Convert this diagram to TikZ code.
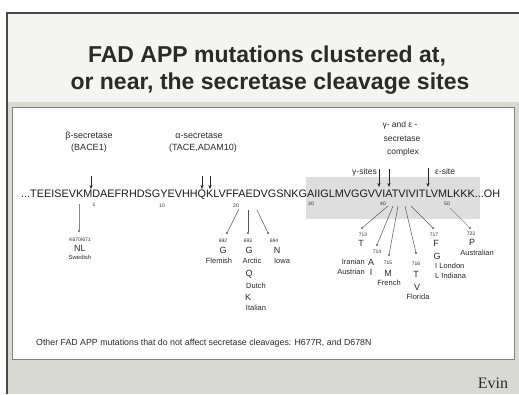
\documentclass[tikz,border=0pt]{standalone}
\usepackage{fontspec}
\setmainfont{Liberation Sans}
\newfontfamily\evinfont{Liberation Serif}
\usetikzlibrary{arrows.meta}
\definecolor{slidebg}{HTML}{D9D9D3}
\definecolor{titlebg}{HTML}{F4F4F1}
\definecolor{txt}{HTML}{2A2A2A}
\definecolor{linec}{HTML}{555555}
\definecolor{seqbox}{HTML}{DEDEDE}
\definecolor{framec}{HTML}{4A4A4A}
\tikzset{
  title/.style={font=\bfseries\fontsize{23}{25}\selectfont, text=txt, inner sep=0pt, anchor=base},
  lbl/.style={font=\fontsize{9}{10}\selectfont, text=txt, inner sep=0pt},
  sitelbl/.style={font=\fontsize{8.5}{9}\selectfont, text=txt, inner sep=0pt},
  mut/.style={font=\fontsize{7.5}{8}\selectfont, text=txt, inner sep=0pt},
  aa/.style={font=\fontsize{9}{10}\selectfont, text=txt, inner sep=0pt},
  num/.style={font=\fontsize{5}{6}\selectfont, text=txt, inner sep=0pt},
  dotm/.style={circle, fill=linec, inner sep=0pt, minimum size=2.2pt},
  conn/.style={draw=linec, line width=0.5pt},
  faint/.style={draw=linec!70, line width=0.4pt},
  cut/.style={-{Stealth[length=4pt,width=3.2pt]}, line width=0.9pt, draw=black!85},
}
\begin{document}
\begin{tikzpicture}[x={(1pt,0)}, y={(0,-1pt)}]
\useasboundingbox (0,0) rectangle (519,394);
% slide
\fill[white] (0,0) rectangle (519,394);
\fill[slidebg] (8,13) rectangle (519,394);
\fill[titlebg] (8,13) rectangle (519,102);
\draw[framec, line width=1.6pt] (7,394) -- (7,13) -- (519,13);
\draw[fill=white, draw=black!50, line width=0.8pt] (12,107) rectangle (514,359);
% title
\node[title] (t1) at (267,62) {FAD APP mutations clustered at,};
\node[title] (t2) at (270,89.5) {or near, the secretase cleavage sites};
% shaded transmembrane region
\fill[seqbox] (306,177) rectangle (480,219);
% sequence
\node[anchor=west, inner sep=0pt, text=black!90, font=\fontsize{10.84}{12}\selectfont] (seq) at (21,195)
  {...TEEISEVKMDAEFRHDSGYEVHHQKLVFFAEDVGSNKGAIIGLMVGGVVIATVIVITLVMLKKK...OH};
% residue numbers
\node[num] (n1) at (94,205) {1};
\node[num] (n10) at (162,206) {10};
\node[num] (n20) at (236,206) {20};
\node[num] (n30) at (311,204) {30};
\node[num] (n40) at (383,204) {40};
\node[num] (n50) at (447,204) {50};
% secretase labels
\node[lbl] (bs) at (89,136) {β-secretase};
\node[lbl] (bace) at (89,148) {(BACE1)};
\node[lbl] (as) at (199,136) {α-secretase};
\node[lbl] (tace) at (203,148) {(TACE,ADAM10)};
\node[sitelbl] (ge1) at (400,125) {γ- and ε -};
\node[sitelbl] (ge2) at (402,139) {secretase};
\node[sitelbl] (ge3) at (403,152) {complex};
\node[sitelbl, anchor=east] (gs) at (377,172) {γ-sites};
\node[sitelbl, anchor=west] (es) at (435,171) {ε-site};
% cleavage arrows
\coordinate (b0) at (91,176); \coordinate (b1) at (91,189);
\coordinate (a0) at (202,176); \coordinate (a1) at (202,189);
\coordinate (a2) at (210,176); \coordinate (a3) at (210,189);
\coordinate (g0) at (379,169); \coordinate (g1) at (379,187);
\coordinate (g2) at (389,169); \coordinate (g3) at (389,187);
\coordinate (e0) at (428,168); \coordinate (e1) at (428,187);
\draw[cut] (b0) -- (b1);
\draw[cut] (a0) -- (a1);
\draw[cut] (a2) -- (a3);
\draw[cut] (g0) -- (g1);
\draw[cut] (g2) -- (g3);
\draw[cut] (e0) -- (e1);
% Swedish
\coordinate (sw0) at (79,204);
\node[dotm] (swd) at (79,231) {};
\draw[faint] (sw0) -- (swd);
\node[num] (sw1) at (80,240) {K670/671};
\node[aa] (sw2) at (80,248) {NL};
\node[font=\fontsize{6}{7}\selectfont, text=txt, inner sep=0pt] (sw3) at (80,257) {Swedish};
% 692
\coordinate (m692) at (239,209);
\node[dotm] (d692) at (227,233) {};
\draw[conn] (m692) -- (d692);
\node[num] (l692a) at (223,241) {692};
\node[aa] (l692b) at (223,250) {G};
\node[mut] (l692c) at (219,261) {Flemish};
% 693
\coordinate (m693) at (248,210);
\node[dotm] (d693) at (248,233) {};
\draw[conn] (m693) -- (d693);
\node[num] (l693a) at (248,241) {693};
\node[aa] (l693b) at (249,250) {G};
\node[mut] (l693c) at (252,261) {Arctic};
\node[aa] (l693d) at (249,274) {Q};
\node[mut] (l693e) at (256,286) {Dutch};
\node[aa] (l693f) at (248,297) {K};
\node[mut] (l693g) at (256,308) {Italian};
% 694
\coordinate (m694) at (257,210);
\node[dotm] (d694) at (268,233) {};
\draw[conn] (m694) -- (d694);
\node[num] (l694a) at (274,241) {694};
\node[aa] (l694b) at (277,250) {N};
\node[mut] (l694c) at (282,261) {Iowa};
% 713
\coordinate (m713) at (388,206);
\node[dotm] (d713) at (362,228) {};
\draw[conn] (m713) -- (d713);
\node[num] (l713a) at (363,235) {713};
\node[aa] (l713b) at (361,243) {T};
% 714
\coordinate (m714) at (393,206);
\node[dotm] (d714) at (377,245) {};
\draw[conn] (m714) -- (d714);
\node[num] (l714a) at (377,252) {714};
\node[aa] (l714b) at (371,262) {A};
\node[mut, anchor=east] (l714c) at (365,262) {Iranian};
\node[aa] (l714d) at (371,272) {I};
\node[mut, anchor=east] (l714e) at (365,272) {Austrian};
% 715
\coordinate (m715) at (398,206);
\node[dotm] (d715) at (389,255) {};
\draw[conn] (m715) -- (d715);
\node[num] (l715a) at (388,263) {715};
\node[aa] (l715b) at (388,273) {M};
\node[mut] (l715c) at (389,283) {French};
% 716
\coordinate (m716) at (405,206);
\node[dotm] (d716) at (416,253) {};
\draw[conn] (m716) -- (d716);
\node[num] (l716a) at (416,264) {716};
\node[aa] (l716b) at (416,274) {T};
\node[aa] (l716c) at (417,287) {V};
\node[mut] (l716d) at (418,297) {Florida};
% 717
\coordinate (m717) at (411,206);
\node[dotm] (d717) at (433,228) {};
\draw[conn] (m717) -- (d717);
\node[num] (l717a) at (434,235) {717};
\node[aa] (l717b) at (436,243) {F};
\node[aa] (l717c) at (437,256) {G};
\node[mut, anchor=west] (l717d) at (435,266) {I London};
\node[mut, anchor=west] (l717e) at (435,276) {L Indiana};
% 723
\coordinate (m723) at (450,208);
\node[dotm] (d723) at (470,228) {};
\draw[faint] (m723) -- (d723);
\node[num] (l723a) at (471,234) {723};
\node[aa] (l723b) at (472,242) {P};
\node[mut] (l723c) at (477,253) {Australian};
% footnote
\node[anchor=west, inner sep=0pt, text=txt, font=\fontsize{8.8}{10}\selectfont] (other) at (36,343)
  {Other FAD APP mutations that do not affect secretase cleavages: H677R, and D678N};
\node[text=txt, inner sep=0pt, font=\evinfont\fontsize{16}{18}\selectfont] (evin) at (493,383) {Evin};
\end{tikzpicture}
\end{document}
